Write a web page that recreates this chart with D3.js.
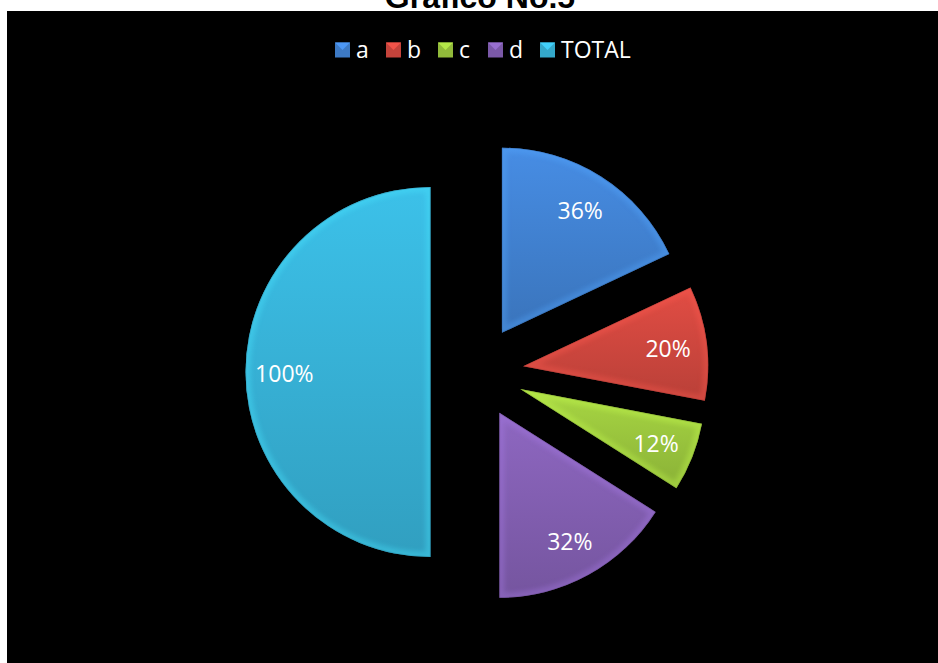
<!DOCTYPE html>
<html>
<head>
<meta charset="utf-8">
<script src="https://cdn.jsdelivr.net/npm/d3@7"></script>
<style>
  html, body { margin: 0; padding: 0; background: #ffffff; }
  svg { display: block; }
</style>
</head>
<body>
<svg id="chart" width="938" height="663"></svg>
<script>
// Chart data
const categories = ["a", "b", "c", "d", "TOTAL"];
const values = [0.36, 0.20, 0.12, 0.32, 1.00];
const seriesColors = ["#4283d4", "#d2483f", "#9cc83e", "#8460b4", "#38b4d9"];
const chartTitle = "Grafico No.5";

const W = 938, H = 663;
const svg = d3.select("#chart");
const defs = svg.append("defs");

// Plot area background
svg.append("rect").attr("x", 7).attr("y", 11).attr("width", W - 7).attr("height", H - 11).attr("fill", "#000");

// Title (sits partly above the visible area)
svg.append("text")
  .attr("x", 480).attr("y", 8)
  .attr("text-anchor", "middle")
  .attr("font-family", "Liberation Sans, Arial, sans-serif")
  .attr("font-weight", "bold")
  .attr("font-size", 32)
  .attr("fill", "#000")
  .text(chartTitle);

// Gradients for the bevelled look
seriesColors.forEach((c, i) => {
  const g = defs.append("linearGradient").attr("id", "grad" + i)
    .attr("x1", 0).attr("y1", 0).attr("x2", 0).attr("y2", 1);
  g.append("stop").attr("offset", "0%").attr("stop-color", d3.color(c).brighter(0.2));
  g.append("stop").attr("offset", "100%").attr("stop-color", d3.color(c).darker(0.35));
});
defs.append("filter").attr("id", "soft").attr("x", "-20%").attr("y", "-20%").attr("width", "140%").attr("height", "140%")
  .append("feGaussianBlur").attr("stdDeviation", 2.5);

// Pie geometry
const cx = 477, cy = 372, R = 185, explode = 46.5;
const pie = d3.pie().sort(null).value(d => d.value).startAngle(0).endAngle(2 * Math.PI);
const data = categories.map((k, i) => ({ key: k, value: values[i], idx: i }));
const arcs = pie(data);
const arc = d3.arc().innerRadius(0).outerRadius(R);
const fmt = d3.format(".0%");

const slices = svg.append("g").attr("transform", `translate(${cx},${cy})`);

arcs.forEach((a, i) => {
  const mid = (a.startAngle + a.endAngle) / 2;
  const ox = Math.sin(mid) * explode, oy = -Math.cos(mid) * explode;
  const g = slices.append("g").attr("transform", `translate(${ox},${oy})`);
  const p = arc(a);
  defs.append("clipPath").attr("id", "clip" + i).append("path").attr("d", p).attr("transform", `translate(${cx + ox},${cy + oy})`);

  g.append("path").attr("d", p).attr("fill", `url(#grad${i})`);
  // soft inner rim highlight
  const rim = svg.append("g").attr("clip-path", `url(#clip${i})`)
    .append("g").attr("transform", `translate(${cx + ox},${cy + oy})`);
  rim.append("path").attr("d", p)
    .attr("fill", "none")
    .attr("stroke", d3.color(seriesColors[i]).brighter(0.7))
    .attr("stroke-width", 10)
    .attr("stroke-linejoin", "round")
    .attr("opacity", 0.35)
    .attr("filter", "url(#soft)");
  rim.append("path").attr("d", p)
    .attr("fill", "none")
    .attr("stroke", d3.color(seriesColors[i]).darker(0.6))
    .attr("stroke-width", 1.5)
    .attr("opacity", 0.5);

  // data label along the bisector
  const lr = R * 0.79;
  svg.append("text")
    .attr("x", cx + ox + Math.sin(mid) * lr)
    .attr("y", cy + oy - Math.cos(mid) * lr + 1.5)
    .attr("dy", "0.35em")
    .attr("text-anchor", "middle")
    .attr("font-family", "Open Sans, sans-serif")
    .attr("font-size", 23)
    .attr("fill", "#fff")
    .text(fmt(a.data.value));
});

// Legend
const legend = svg.append("g").attr("font-family", "Open Sans, sans-serif").attr("font-size", 23);
const legendX = [335, 386, 438, 488, 540];
const ly = 50;
categories.forEach((k, i) => {
  const s = 15;
  const c = seriesColors[i];
  const lx = legendX[i];
  legend.append("rect").attr("x", lx).attr("y", ly - s / 2).attr("width", s).attr("height", s)
    .attr("fill", d3.color(c).darker(0.2));
  legend.append("path")
    .attr("d", `M${lx},${ly - s / 2}L${lx + s},${ly - s / 2}L${lx + s / 2},${ly}Z`)
    .attr("fill", d3.color(c).brighter(0.4));
  legend.append("text").attr("x", lx + s + 6).attr("y", ly).attr("dy", "0.35em")
    .attr("fill", "#fff").text(k);
});
</script>
</body>
</html>
